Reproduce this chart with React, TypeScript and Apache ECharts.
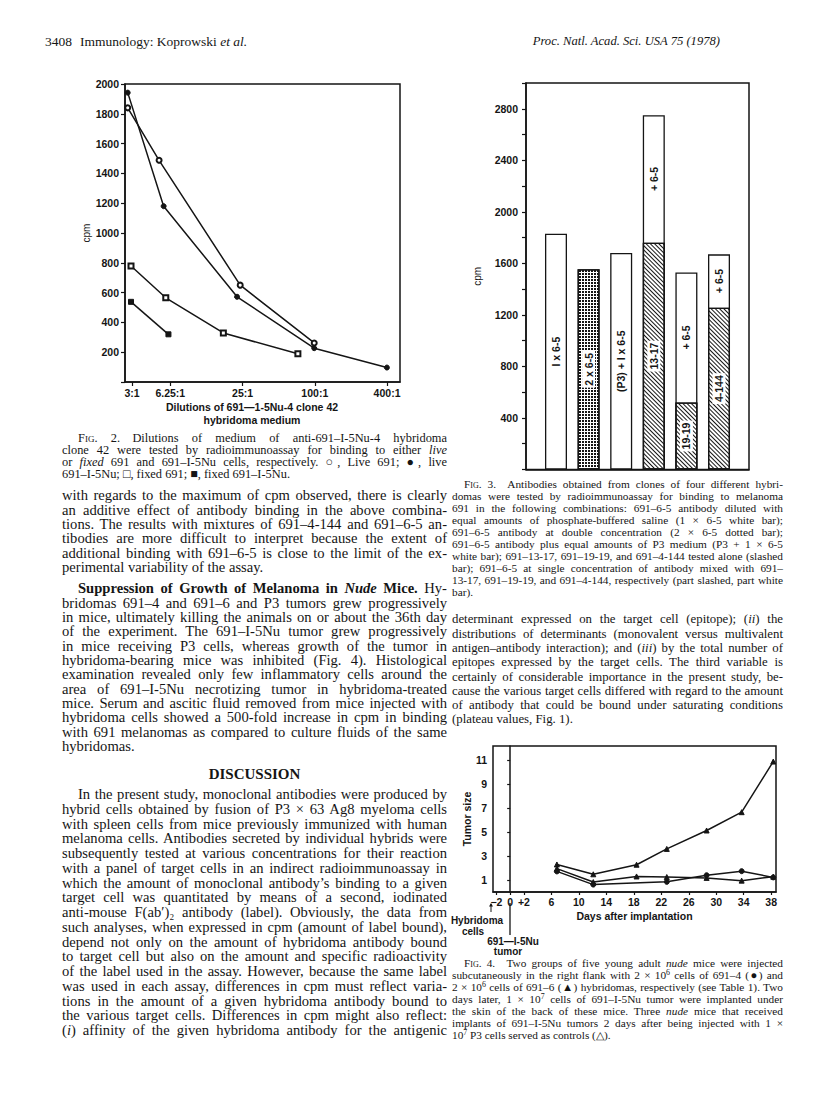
import React, { useEffect, useRef } from "react";
import * as echarts from "echarts";

// ---------- Fig. 2 data (dilution factor, cpm) ----------
const fig2TickValues = [3, 6.25, 25, 100, 400];
const fig2TickLabels = ["3:1", "6.25:1", "25:1", "100:1", "400:1"];
const live691X = [2.76, 5.04, 23.9, 98.9];
const live691Y = [1840, 1488, 650, 262];
const live5NuX = [2.76, 5.5, 22.5, 98.9, 399];
const live5NuY = [1942, 1180, 572, 227, 97];
const fixed691X = [2.94, 5.73, 17.3, 72.3];
const fixed691Y = [779, 565, 329, 189];
const fixed5NuX = [2.94, 6.03];
const fixed5NuY = [538, 320];

// ---------- Fig. 3 data ----------
const fig3Pos = [1, 2, 3, 4, 5, 6];
const fig3Names = ["I x 6-5", "2 x 6-5", "(P3) + I x 6-5", "13-17", "19-19", "4-144"];
const fig3Alone = [1830, 1555, 1680, 1760, 520, 1255];
const fig3Fill = ["white", "dotted", "white", "slashed", "slashed", "slashed"];
const fig3WithPlus65 = [null, null, null, 2750, 1530, 1670];
const fig3PlusLabel = "+ 6-5";

// ---------- Fig. 4 data (days, tumor size) ----------
const fig4TickValues = [-2, 0, 2, 6, 10, 14, 18, 22, 26, 30, 34, 38];
const fig4YTicks = [1, 3, 5, 7, 9, 11];
const controlDays = [6.8, 12.1, 18.4, 22.8, 28.6, 33.7, 38.3];
const controlSize = [2.3, 1.48, 2.28, 3.6, 5.14, 6.67, 10.9];
const h6Days = [6.8, 12.1, 18.4, 22.8, 28.6, 33.7, 38.3];
const h6Size = [1.95, 0.83, 1.3, 1.25, 1.18, 0.95, 1.28];
const h4Days = [6.8, 12.1, 22.8, 28.6, 33.7, 38.3];
const h4Size = [1.72, 0.62, 0.85, 1.4, 1.74, 1.22];

const INK = "#151515";
const SANS = "'Liberation Sans', Arial, sans-serif";
const SERIF = "'Liberation Serif', 'Times New Roman', serif";

const zip = (xs: number[], ys: number[]) => xs.map((x, i) => [x, ys[i]]);

function buildOption() {
  const labelFont = { fontFamily: SANS, fontWeight: "bold" as const, color: INK };
  const axisLine = { show: true, lineStyle: { color: INK, width: 1.5 } };
  const tickStyle = { color: INK, width: 1.2 };

  const lineSeries = (xs: number[], ys: number[], symbol: string, idx: number) => ({
    type: "line",
    xAxisIndex: idx,
    yAxisIndex: idx,
    data: zip(xs, ys),
    symbol,
    symbolSize: 5,
    silent: true,
    lineStyle: { color: INK, width: 1.5 },
    itemStyle: { color: INK, borderColor: INK, borderWidth: 1 },
  });

  const slashDecal = {
    symbol: "rect",
    symbolSize: 1,
    color: INK,
    backgroundColor: "#fff",
    dashArrayX: [1, 0],
    dashArrayY: [1, 2],
    rotation: Math.PI / 4,
  };
  const dotDecal = {
    symbol: "rect",
    symbolSize: 1,
    color: INK,
    backgroundColor: "#fff",
    dashArrayX: [1.1, 0.8],
    dashArrayY: [1.1, 0.8],
    rotation: 0,
  };

  const barLabel = (boxed: boolean) => ({
    show: true,
    position: "inside",
    rotate: 90,
    align: "center",
    verticalAlign: "middle",
    formatter: "{b}",
    fontSize: 10.5,
    fontWeight: "bold",
    fontFamily: SANS,
    color: INK,
    backgroundColor: boxed ? "#fff" : "transparent",
    padding: [1, 2],
  });

  const pick = (fill: string) =>
    fig3Pos
      .map((x, i) => (fig3Fill[i] === fill ? { value: [x, fig3Alone[i]], name: fig3Names[i] } : null))
      .filter(Boolean);

  const barBase = {
    type: "bar",
    xAxisIndex: 1,
    yAxisIndex: 1,
    barWidth: 22,
    barGap: "-100%",
    silent: true,
  };

  // white "+ 6-5" bars (full height), label centred on the white upper part
  const plusData = fig3Pos
    .map((x, i) => {
      const top = fig3WithPlus65[i];
      if (top == null) return null;
      const pct = ((top - fig3Alone[i]) / 2 / top) * 100;
      return { value: [x, top], name: fig3PlusLabel, label: { position: ["50%", pct.toFixed(1) + "%"] } };
    })
    .filter(Boolean);

  const small = (text: string, x: number, y: number) => ({
    type: "text",
    x,
    y,
    style: { text, align: "center", verticalAlign: "middle", font: `bold 10px ${SANS}`, fill: INK },
  });

  return {
    animation: false,
    backgroundColor: "transparent",
    grid: [
      { left: 125, top: 84, width: 275, height: 298, show: true, borderColor: INK, borderWidth: 1.5 },
      { left: 526, top: 83, width: 223, height: 386.5, show: true, borderColor: INK, borderWidth: 1.5 },
      { left: 493, top: 746, width: 283, height: 146, show: true, borderColor: INK, borderWidth: 1.5 },
    ],
    xAxis: [
      {
        gridIndex: 0,
        type: "log",
        logBase: 2,
        min: 2.62,
        max: 513,
        axisLine,
        axisTick: { show: true, customValues: fig2TickValues, length: 4, lineStyle: tickStyle },
        axisLabel: {
          customValues: fig2TickValues,
          formatter: (v: number) => {
            const i = fig2TickValues.findIndex((t) => Math.abs(t - v) < 0.01);
            return i >= 0 ? fig2TickLabels[i] : "";
          },
          fontSize: 10.5,
          margin: 5,
          ...labelFont,
        },
        splitLine: { show: false },
        minorTick: { show: false },
      },
      {
        gridIndex: 1,
        type: "value",
        min: 0.08,
        max: 6.92,
        axisLine,
        axisTick: { show: false },
        axisLabel: { show: false },
        splitLine: { show: false },
      },
      {
        gridIndex: 2,
        type: "value",
        min: -2.5,
        max: 38.7,
        axisLine,
        axisTick: { show: true, customValues: fig4TickValues, length: 3, lineStyle: tickStyle },
        axisLabel: {
          customValues: fig4TickValues,
          formatter: (v: number) => (v === 2 ? "+2" : v < 0 ? "\u2212" + Math.abs(v) : String(v)),
          fontSize: 10.5,
          margin: 4,
          ...labelFont,
        },
        splitLine: { show: false },
        name: "Days after implantation",
        nameLocation: "middle",
        nameGap: 18,
        nameTextStyle: { fontSize: 10.5, ...labelFont },
      },
    ],
    yAxis: [
      {
        gridIndex: 0,
        type: "value",
        min: 0,
        max: 2000,
        interval: 200,
        axisLine,
        axisTick: { show: true, length: 4, lineStyle: tickStyle },
        axisLabel: { formatter: (v: number) => (v === 0 ? "" : String(v)), fontSize: 10.5, margin: 6, ...labelFont },
        splitLine: { show: false },
        name: "cpm",
        nameLocation: "middle",
        nameGap: 34,
        nameRotate: 90,
        nameTextStyle: { fontSize: 10, fontFamily: SANS, color: INK },
      },
      {
        gridIndex: 1,
        type: "value",
        min: 0,
        max: 3000,
        interval: 200,
        axisLine,
        axisTick: { show: true, length: 4, lineStyle: tickStyle },
        axisLabel: {
          formatter: (v: number) => (v > 0 && v % 400 === 0 ? String(v) : ""),
          fontSize: 10.5,
          margin: 8,
          ...labelFont,
        },
        splitLine: { show: false },
        name: "cpm",
        nameLocation: "middle",
        nameGap: 44,
        nameRotate: 90,
        nameTextStyle: { fontSize: 10, fontFamily: SANS, color: INK },
      },
      {
        gridIndex: 2,
        type: "value",
        min: 0,
        max: 12.2,
        axisLine,
        axisTick: { show: true, customValues: fig4YTicks, length: 3, lineStyle: tickStyle },
        axisLabel: { customValues: fig4YTicks, fontSize: 10.5, margin: 6, ...labelFont },
        splitLine: { show: false },
        name: "Tumor size",
        nameLocation: "middle",
        nameGap: 20,
        nameRotate: 90,
        nameTextStyle: { fontSize: 10.5, ...labelFont },
      },
    ],
    series: [
      lineSeries(live691X, live691Y, "emptyCircle", 0),
      lineSeries(live5NuX, live5NuY, "circle", 0),
      lineSeries(fixed691X, fixed691Y, "emptyRect", 0),
      lineSeries(fixed5NuX, fixed5NuY, "rect", 0),
      {
        ...barBase,
        data: pick("white"),
        itemStyle: { color: "#fff", borderColor: INK, borderWidth: 1.3 },
        label: barLabel(false),
      },
      {
        ...barBase,
        data: pick("dotted"),
        itemStyle: { color: "#fff", borderColor: INK, borderWidth: 1.3, decal: dotDecal },
        label: barLabel(true),
      },
      {
        ...barBase,
        data: plusData,
        itemStyle: { color: "#fff", borderColor: INK, borderWidth: 1.3 },
        label: barLabel(false),
      },
      {
        ...barBase,
        data: pick("slashed"),
        itemStyle: { color: "#fff", borderColor: INK, borderWidth: 1.3, decal: slashDecal },
        label: barLabel(true),
      },
      lineSeries(controlDays, controlSize, "triangle", 2),
      lineSeries(h6Days, h6Size, "triangle", 2),
      lineSeries(h4Days, h4Size, "circle", 2),
    ],
    graphic: [
      {
        type: "text",
        x: 252,
        y: 407,
        style: { text: "Dilutions of 691\u20141-5Nu-4 clone 42", align: "center", verticalAlign: "middle", font: `bold 10.5px ${SANS}`, fill: INK },
      },
      {
        type: "text",
        x: 252,
        y: 420,
        style: { text: "hybridoma medium", align: "center", verticalAlign: "middle", font: `bold 10.5px ${SANS}`, fill: INK },
      },
      // small arrow under day -2 (hybridoma cells injected)
      { type: "line", shape: { x1: 491, y1: 904, x2: 491, y2: 912 }, style: { stroke: INK, lineWidth: 1 } },
      { type: "polygon", shape: { points: [[489, 906.5], [491, 903], [493, 906.5]] }, style: { fill: INK } },
      small("Hybridoma", 477, 920),
      small("cells", 473, 931),
      // line at day 0 (tumor implanted)
      { type: "line", shape: { x1: 510, y1: 903, x2: 510, y2: 935 }, style: { stroke: INK, lineWidth: 1.3 } },
      small("691\u2014I-5Nu", 513, 941),
      small("tumor", 508, 951),
    ],
  };
}

// ---------- text layout helpers ----------
type LineProps = {
  x: number;
  y: number;
  w: number;
  size: number;
  indent?: number;
  last?: boolean;
  align?: "left" | "center" | "right";
  style?: React.CSSProperties;
  children?: React.ReactNode;
};

const Ln = ({ x, y, w, size, indent = 0, last = false, align, style, children }: LineProps) => {
  const a = align || (last ? "left" : "justify");
  const lh = size * 1.2;
  return (
    <div
      style={{
        position: "absolute",
        left: x + indent,
        top: y - lh / 2,
        width: w - indent,
        fontSize: size,
        lineHeight: `${lh}px`,
        whiteSpace: "nowrap",
        textAlign: a as any,
        textAlignLast: a as any,
        fontFamily: SERIF,
        color: INK,
        ...style,
      }}
    >
      {children}
    </div>
  );
};

const SC = ({ children }: { children: React.ReactNode }) => (
  <span style={{ fontVariant: "small-caps" }}>{children}</span>
);

type Block = {
  x: number;
  w: number;
  y0: number;
  step: number;
  size: number;
  indentFirst?: number;
  lastLeft?: boolean;
  lines: React.ReactNode[];
};

const renderBlock = (b: Block, key: string) =>
  b.lines.map((content, i) => (
    <Ln
      key={key + i}
      x={b.x}
      w={b.w}
      y={b.y0 + i * b.step}
      size={b.size}
      indent={i === 0 ? b.indentFirst || 0 : 0}
      last={b.lastLeft !== false && i === b.lines.length - 1}
    >
      {content}
    </Ln>
  ));

const LX = 62;
const LW = 385;
const RX = 452;
const RW = 331;
const LBODY = 14.6;
const RBODY = 12.8;
const LCAP = 12.4;
const RCAP = 11.3;

export default function App() {
  const ref = useRef<HTMLDivElement>(null);

  useEffect(() => {
    if (!ref.current) return;
    const chart = echarts.init(ref.current, undefined, { renderer: "svg" });
    chart.setOption(buildOption() as any);
    return () => chart.dispose();
  }, []);

  const supStyle: React.CSSProperties = { fontSize: "0.7em", position: "relative", top: -4 };

  const fig2Caption: Block = {
    x: LX, w: LW, y0: 438, step: 12, size: LCAP, indentFirst: 16,
    lines: [
      <><SC>Fig.</SC> 2.{"\u2003"}Dilutions of medium of anti-691–I-5Nu-4 hybridoma</>,
      <>clone 42 were tested by radioimmunoassay for binding to either <i>live</i></>,
      <>or <i>fixed</i> 691 and 691–I-5Nu cells, respectively. ○, Live 691; ●, live</>,
      <>691–I-5Nu; □, fixed 691; ■, fixed 691–I-5Nu.</>,
    ],
  };

  const p1: Block = {
    x: LX, w: LW, y0: 496, step: 14.4, size: LBODY,
    lines: [
      "with regards to the maximum of cpm observed, there is clearly",
      "an additive effect of antibody binding in the above combina-",
      "tions. The results with mixtures of 691–4-144 and 691–6-5 an-",
      "tibodies are more difficult to interpret because the extent of",
      "additional binding with 691–6-5 is close to the limit of the ex-",
      "perimental variability of the assay.",
    ],
  };

  const p2: Block = {
    x: LX, w: LW, y0: 589, step: 14.36, size: LBODY, indentFirst: 16,
    lines: [
      <><b>Suppression of Growth of Melanoma in <i>Nude</i> Mice.</b> Hy-</>,
      "bridomas 691–4 and 691–6 and P3 tumors grew progressively",
      "in mice, ultimately killing the animals on or about the 36th day",
      "of the experiment. The 691–I-5Nu tumor grew progressively",
      "in mice receiving P3 cells, whereas growth of the tumor in",
      "hybridoma-bearing mice was inhibited (Fig. 4). Histological",
      "examination revealed only few inflammatory cells around the",
      "area of 691–I-5Nu necrotizing tumor in hybridoma-treated",
      "mice. Serum and ascitic fluid removed from mice injected with",
      "hybridoma cells showed a 500-fold increase in cpm in binding",
      "with 691 melanomas as compared to culture fluids of the same",
      "hybridomas.",
    ],
  };

  const p3: Block = {
    x: LX, w: LW, y0: 795, step: 14.75, size: LBODY, indentFirst: 16, lastLeft: false,
    lines: [
      "In the present study, monoclonal antibodies were produced by",
      "hybrid cells obtained by fusion of P3 × 63 Ag8 myeloma cells",
      "with spleen cells from mice previously immunized with human",
      "melanoma cells. Antibodies secreted by individual hybrids were",
      "subsequently tested at various concentrations for their reaction",
      "with a panel of target cells in an indirect radioimmunoassay in",
      "which the amount of monoclonal antibody’s binding to a given",
      "target cell was quantitated by means of a second, iodinated",
      "anti-mouse F(ab′)₂ antibody (label). Obviously, the data from",
      "such analyses, when expressed in cpm (amount of label bound),",
      "depend not only on the amount of hybridoma antibody bound",
      "to target cell but also on the amount and specific radioactivity",
      "of the label used in the assay. However, because the same label",
      "was used in each assay, differences in cpm must reflect varia-",
      "tions in the amount of a given hybridoma antibody bound to",
      "the various target cells. Differences in cpm might also reflect:",
      <>(<i>i</i>) affinity of the given hybridoma antibody for the antigenic</>,
    ],
  };

  const fig3Caption: Block = {
    x: RX, w: RW, y0: 485, step: 12, size: RCAP, indentFirst: 12,
    lines: [
      <><SC>Fig.</SC> 3.{"\u2003"}Antibodies obtained from clones of four different hybri-</>,
      "domas were tested by radioimmunoassay for binding to melanoma",
      "691 in the following combinations: 691–6-5 antibody diluted with",
      "equal amounts of phosphate-buffered saline (1 × 6-5 white bar);",
      "691–6-5 antibody at double concentration (2 × 6-5 dotted bar);",
      "691–6-5 antibody plus equal amounts of P3 medium (P3 + 1 × 6-5",
      "white bar); 691–13-17, 691–19-19, and 691–4-144 tested alone (slashed",
      "bar); 691–6-5 at single concentration of antibody mixed with 691–",
      "13-17, 691–19-19, and 691–4-144, respectively (part slashed, part white",
      "bar).",
    ],
  };

  const p4: Block = {
    x: RX, w: RW, y0: 620, step: 14.3, size: RBODY,
    lines: [
      <>determinant expressed on the target cell (epitope); (<i>ii</i>) the</>,
      "distributions of determinants (monovalent versus multivalent",
      <>antigen–antibody interaction); and (<i>iii</i>) by the total number of</>,
      "epitopes expressed by the target cells. The third variable is",
      "certainly of considerable importance in the present study, be-",
      "cause the various target cells differed with regard to the amount",
      "of antibody that could be bound under saturating conditions",
      "(plateau values, Fig. 1).",
    ],
  };

  const fig4Caption: Block = {
    x: RX, w: RW, y0: 964, step: 12, size: RCAP, indentFirst: 12,
    lines: [
      <><SC>Fig.</SC> 4.{"\u2003"}Two groups of five young adult <i>nude</i> mice were injected</>,
      <>subcutaneously in the right flank with 2 × 10<span style={supStyle}>6</span> cells of 691–4 (●) and</>,
      <>2 × 10<span style={supStyle}>6</span> cells of 691–6 (▲) hybridomas, respectively (see Table 1). Two</>,
      <>days later, 1 × 10<span style={supStyle}>7</span> cells of 691–I-5Nu tumor were implanted under</>,
      <>the skin of the back of these mice. Three <i>nude</i> mice that received</>,
      "implants of 691–I-5Nu tumors 2 days after being injected with 1 ×",
      <>10<span style={supStyle}>7</span> P3 cells served as controls (△).</>,
    ],
  };

  return (
    <div style={{ position: "absolute", left: 0, top: 0, width: 816, height: 1109, background: "#fff", overflow: "hidden" }}>
      <div ref={ref} style={{ position: "absolute", left: 0, top: 0, width: 816, height: 1109 }} />
      <div style={{ position: "absolute", left: 0, top: 0, width: 816, height: 1109, pointerEvents: "none" }}>
        <Ln x={45} y={42} w={40} size={13.5} align="left">3408</Ln>
        <Ln x={80} y={42} w={250} size={13.5} align="left">
          Immunology: Koprowski <i>et al.</i>
        </Ln>
        <Ln x={470} y={42} w={250} size={12.6} align="right">
          <i>Proc. Natl. Acad. Sci. USA 75 (1978)</i>
        </Ln>
        {renderBlock(fig2Caption, "c2")}
        {renderBlock(p1, "p1")}
        {renderBlock(p2, "p2")}
        <Ln x={LX} y={774} w={LW} size={15} align="center" style={{ fontWeight: "bold" }}>
          DISCUSSION
        </Ln>
        {renderBlock(p3, "p3")}
        {renderBlock(fig3Caption, "c3")}
        {renderBlock(p4, "p4")}
        {renderBlock(fig4Caption, "c4")}
      </div>
    </div>
  );
}
